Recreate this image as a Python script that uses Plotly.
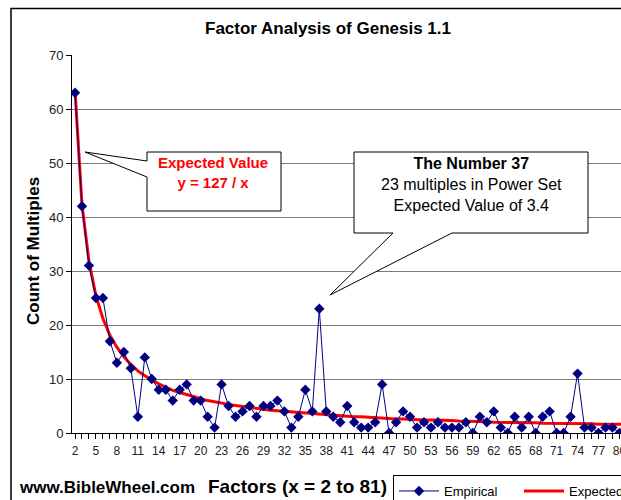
import plotly.graph_objects as go

# ---- data ----
factors = list(range(2, 82))
empirical = [63, 42, 31, 25, 25, 17, 13, 15, 12, 3,
             14, 10, 8, 8, 6, 8, 9, 6, 6, 3,
             1, 9, 5, 3, 4, 5, 3, 5, 5, 6,
             4, 1, 3, 8, 4, 23, 4, 3, 2, 5,
             2, 1, 1, 2, 9, 0, 2, 4, 3, 1,
             2, 1, 2, 1, 1, 1, 2, 0, 3, 2,
             4, 1, 0, 3, 1, 3, 0, 3, 4, 0,
             0, 3, 11, 1, 1, 0, 1, 1, 0, 1]
expected = [63.5, 42.3, 31.8, 25.4, 21.2, 18.1, 15.9, 14.1, 12.7, 11.5,
            10.6, 9.8, 9.1, 8.5, 7.9, 7.5, 7.1, 6.7, 6.4, 6.0,
            5.8, 5.5, 5.3, 5.1, 4.9, 4.7, 4.5, 4.4, 4.2, 4.1,
            4.0, 3.8, 3.7, 3.6, 3.5, 3.4, 3.3, 3.3, 3.2, 3.1,
            3.0, 3.0, 2.9, 2.8, 2.8, 2.7, 2.6, 2.6, 2.5, 2.5,
            2.4, 2.4, 2.4, 2.3, 2.3, 2.2, 2.2, 2.2, 2.1, 2.1,
            2.0, 2.0, 2.0, 2.0, 1.9, 1.9, 1.9, 1.8, 1.8, 1.8,
            1.8, 1.7, 1.7, 1.7, 1.7, 1.6, 1.6, 1.6, 1.6, 1.6]
tick_vals = list(range(2, 81, 3))
tick_text = [str(v) for v in tick_vals]
y_ticks = [0, 10, 20, 30, 40, 50, 60, 70]

# ---- geometry (pixels) ----
W, H = 621, 500
PL, PR, PT, PB = 72, 621, 55, 433
X0PX, XSTEP = 75.0, 6.98          # pixel of x=2, pixels per unit
YSCALE = (PB - PT) / 70.0

def dx(px):
    return 2 + (px - X0PX) / XSTEP

def dy(py):
    return (PB - py) / YSCALE

def paper_x(px):
    return (px - PL) / (PR - PL)

def paper_y(py):
    return (PB - py) / (PB - PT)

FONT = "Liberation Sans, Arial, sans-serif"

fig = go.Figure()
fig.add_trace(go.Scatter(
    x=factors, y=expected, name="Expected", mode="lines",
    line=dict(color="#FF0000", width=3), legendrank=2))
fig.add_trace(go.Scatter(
    x=factors, y=empirical, name="Empirical", mode="lines+markers",
    line=dict(color="#000080", width=1),
    marker=dict(symbol="diamond", size=8, color="#000080"),
    legendrank=1))

def path(points):
    s = "M " + " L ".join(f"{dx(a):.4f},{dy(b):.4f}" for a, b in points) + " Z"
    return s

shapes = [
    # outer chart border (left + top visible)
    dict(type="rect", xref="paper", yref="paper",
         x0=paper_x(11), x1=paper_x(700), y0=paper_y(560), y1=paper_y(8.5),
         line=dict(color="black", width=1.5), fillcolor="rgba(0,0,0,0)", layer="above"),
    # callout 1
    dict(type="path", xref="x", yref="y",
         path=path([(147, 152), (281, 152), (281, 211), (147, 211),
                    (147, 177), (85, 152), (147, 161)]),
         line=dict(color="black", width=1), fillcolor="white", layer="above"),
    # callout 2
    dict(type="path", xref="x", yref="y",
         path=path([(354, 152), (588, 152), (588, 233), (452, 233),
                    (330, 295), (393, 233), (354, 233)]),
         line=dict(color="black", width=1), fillcolor="white", layer="above"),
]

def ann(text, px, py, size, color="black", angle=0, xanchor="center"):
    return dict(text=text, xref="paper", yref="paper",
                x=paper_x(px), y=paper_y(py), xanchor=xanchor, yanchor="middle",
                showarrow=False, align="center", textangle=angle,
                font=dict(size=size, color=color, family=FONT))

annotations = [
    ann("<b>Factor Analysis of Genesis 1.1</b>", 328, 29, 17),
    ann("<b>Count of Multiples</b>", 33, 251, 17, angle=-90),
    ann("<b>www.BibleWheel.com</b>", 17, 487, 17, xanchor="left"),
    ann("<b>Factors (x = 2 to 81)</b>", 206, 486, 19, xanchor="left"),
    ann("<b>Expected Value</b><br><b>y = 127 / x</b>", 213, 172, 15, color="#FF0000"),
    ann("<b>The Number 37</b><br>23 multiples in Power Set<br>Expected Value of 3.4",
        471, 184, 16),
]

fig.update_layout(
    width=W, height=H,
    margin=dict(l=PL, r=W - PR, t=PT, b=H - PB, pad=0, autoexpand=False),
    paper_bgcolor="white", plot_bgcolor="white",
    font=dict(family=FONT, color="black"),
    showlegend=True,
    legend=dict(orientation="h", x=paper_x(393), y=paper_y(475),
                xanchor="left", yanchor="top",
                bordercolor="black", borderwidth=1, bgcolor="white",
                font=dict(size=13, family=FONT, color="black"),
                tracegroupgap=0, itemwidth=40, entrywidth=70),
    shapes=shapes,
    annotations=annotations,
    xaxis=dict(range=[dx(PL), dx(PR)], tickmode="array",
               tickvals=tick_vals, ticktext=tick_text,
               showgrid=False, zeroline=False,
               showline=True, linecolor="black", linewidth=1,
               ticks="outside", ticklen=5, tickcolor="black",
               ticklabeloverflow="allow", ticklabelstandoff=2,
               minor=dict(dtick=1, tick0=2, ticks="outside", ticklen=5,
                          tickcolor="black", showgrid=False),
               tickfont=dict(size=12, family=FONT, color="#222")),
    yaxis=dict(range=[0, 70], tickmode="array", tickvals=y_ticks,
               showgrid=True, gridcolor="#7a7a7a", gridwidth=1,
               zeroline=False, showline=True, linecolor="black", linewidth=1,
               ticks="outside", ticklen=5, tickcolor="black",
               tickfont=dict(size=13, family=FONT, color="#222")),
)

fig.write_html("out.html", config={"displayModeBar": False},
               post_script="document.body.style.margin='0';document.body.style.overflow='hidden';")
